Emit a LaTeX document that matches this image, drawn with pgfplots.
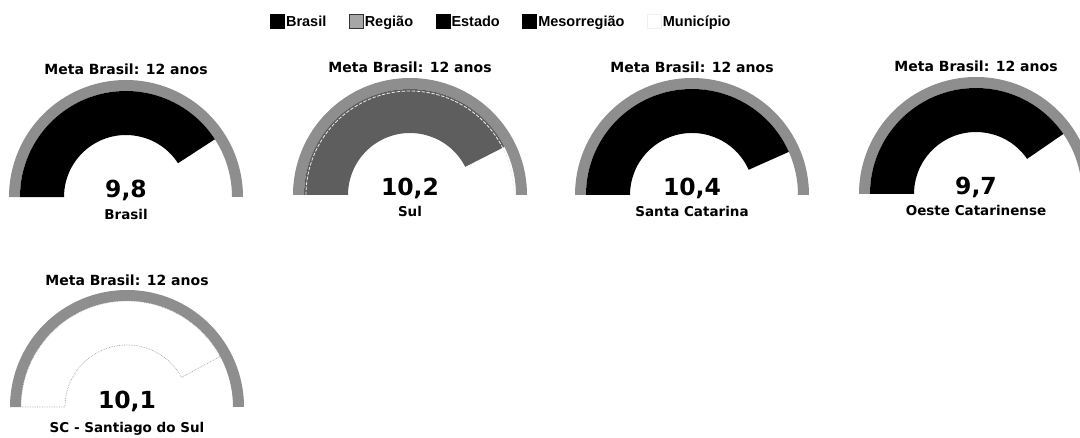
\documentclass[border=0pt]{standalone}
\usepackage{pgfplots}
\pgfplotsset{compat=1.18}
\usepackage{fontspec}
\setmainfont{DejaVu Sans}
\newfontfamily\legfont{Liberation Sans}
\definecolor{ringgray}{HTML}{8E8E8E}
\definecolor{reggray}{HTML}{5E5E5E}
\pgfplotsset{
  gauge/.style={hide axis, scale only axis, width=234pt, height=117pt,
    xmin=-117, xmax=117, ymin=0, ymax=117, clip=false, anchor=south west},
  garc/.style n args={3}{forget plot, scatter, only marks, mark=*, mark size=0pt,
    mark options={draw=none, fill=none}, point meta=explicit,
    point meta min=0, point meta max=12,
    scatter/@pre marker code/.code={%
      \pgfmathsetmacro\ang{180-0.18*\pgfplotspointmetatransformed}%
      \path[draw=none, #1] (180:#2) -- (180:#3) arc[start angle=180, end angle=\ang, radius=#3]
        -- (\ang:#2) arc[start angle=\ang, end angle=180, radius=#2] -- cycle;%
      \begingroup},
    scatter/@post marker code/.code={\endgroup}},
  sqlegend/.style={legend image code/.code={\draw[##1] (0pt,-7pt) rectangle (14pt,7pt);}},
}
\tikzset{
  ttl/.style={font=\bfseries\fontsize{14}{16}\selectfont, anchor=base},
  val/.style={font=\bfseries\fontsize{23.5}{27}\selectfont, anchor=base},
  lbl/.style={font=\bfseries\fontsize{13.5}{16}\selectfont, anchor=base},
}
\begin{document}
\begin{tikzpicture}[x=1pt, y=1pt]
\useasboundingbox (0,0) rectangle (1080,437);
\clip (0,0) rectangle (1080,437);
% Gauge 1: Brasil
\begin{axis}[gauge, at={(9pt,240pt)}, sqlegend,
  legend style={at={(2.103,1.50)}, anchor=center, draw=none, fill=none,
    legend columns=5, font=\legfont\bfseries\fontsize{14.5}{16}\selectfont,
    nodes={inner sep=1.5pt},
    /tikz/every even column/.append style={column sep=21pt}}]
\addplot[garc={fill=ringgray}{106pt}{117pt}] coordinates {(0,0) [12]};
\addplot[garc={fill=black}{62pt}{106pt}] coordinates {(0,0) [9.8]};
\addlegendimage{fill=black, draw=black}
\addlegendentry{Brasil}
\addlegendimage{fill=gray!70, draw=black!80}
\addlegendentry{Região}
\addlegendimage{fill=black, draw=black}
\addlegendentry{Estado}
\addlegendimage{fill=black, draw=black}
\addlegendentry{Mesorregião}
\addlegendimage{fill=white, draw=white!94!black}
\addlegendentry{Município}
\node[ttl] at (axis cs:0,122) {Meta Brasil: 12 anos};
\node[val] at (axis cs:0,-1) {9,8};
\node[lbl] at (axis cs:0,-22) {Brasil};
\end{axis}
% Gauge 2: Sul
\begin{axis}[gauge, at={(293pt,242pt)}]
\addplot[garc={fill=ringgray}{106pt}{117pt}] coordinates {(0,0) [12]};
\addplot[garc={fill=reggray}{62pt}{106pt}] coordinates {(0,0) [10.2]};
\addplot[garc={draw=white!85!gray, line width=0.8pt, densely dashed}{104pt}{104pt}] coordinates {(0,0) [12]};
\node[ttl] at (axis cs:0,122) {Meta Brasil: 12 anos};
\node[val] at (axis cs:0,-1) {10,2};
\node[lbl] at (axis cs:0,-22) {Sul};
\end{axis}
% Gauge 3: Santa Catarina
\begin{axis}[gauge, at={(575pt,242pt)}]
\addplot[garc={fill=ringgray}{106pt}{117pt}] coordinates {(0,0) [12]};
\addplot[garc={fill=black}{62pt}{106pt}] coordinates {(0,0) [10.4]};
\node[ttl] at (axis cs:0,122) {Meta Brasil: 12 anos};
\node[val] at (axis cs:0,-1) {10,4};
\node[lbl] at (axis cs:0,-22) {Santa Catarina};
\end{axis}
% Gauge 4: Oeste Catarinense
\begin{axis}[gauge, at={(859pt,243pt)}]
\addplot[garc={fill=ringgray}{106pt}{117pt}] coordinates {(0,0) [12]};
\addplot[garc={fill=black}{62pt}{106pt}] coordinates {(0,0) [9.7]};
\node[ttl] at (axis cs:0,122) {Meta Brasil: 12 anos};
\node[val] at (axis cs:0,-1) {9,7};
\node[lbl] at (axis cs:0,-22) {Oeste Catarinense};
\end{axis}
% Gauge 5: SC - Santiago do Sul
\begin{axis}[gauge, at={(10pt,30pt)}]
\addplot[garc={fill=ringgray}{106pt}{117pt}] coordinates {(0,0) [12]};
\addplot[garc={fill=white, draw=gray!70, densely dotted, line width=0.7pt}{62pt}{106pt}] coordinates {(0,0) [10.1]};
\node[ttl] at (axis cs:0,122) {Meta Brasil: 12 anos};
\node[val] at (axis cs:0,-1) {10,1};
\node[lbl] at (axis cs:0,-25) {SC - Santiago do Sul};
\end{axis}
\end{tikzpicture}
\end{document}
